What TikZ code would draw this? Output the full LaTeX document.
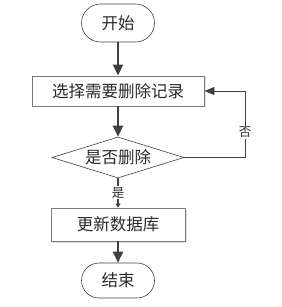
\documentclass[tikz,border=0pt]{standalone}
\usepackage{fontspec}
\newfontfamily\cjk{Noto Sans CJK SC}
\usetikzlibrary{arrows.meta,shapes.geometric,shadows}
\definecolor{linec}{HTML}{404040}
\definecolor{borderc}{HTML}{7A7A7A}
\definecolor{textc}{HTML}{2A2A2A}
\tikzset{
  term/.style={draw=linec, line width=0.6pt, rectangle, rounded corners=#1, inner sep=0pt, text=textc, font=\cjk\fontsize{16.5}{17}\selectfont},
  procbox/.style={draw=borderc, line width=0.9pt, rectangle, inner sep=0pt, text=textc, fill=white,
    drop shadow={opacity=0.25, shadow xshift=1.5pt, shadow yshift=-1.5pt}, font=\cjk\fontsize{16.5}{17}\selectfont},
  decbox/.style={draw=linec, line width=0.6pt, diamond, aspect=3.2, inner sep=0pt, text=textc, font=\cjk\fontsize{16.5}{17}\selectfont},
  flow/.style={draw=linec, line width=2pt, -{Triangle[length=11pt,width=10pt]}},
  thinflow/.style={draw=linec, line width=0.8pt, -{Triangle[length=10pt,width=8pt]}},
  yesflow/.style={draw=linec, line width=1.6pt, -{Triangle[length=4pt,width=5pt]}},
  lbl/.style={fill=white, inner sep=1pt, text=textc, font=\cjk\fontsize{12.5}{13}\selectfont}
}
\begin{document}
\begin{tikzpicture}[x=1pt,y=-1pt]
\useasboundingbox (0,0) rectangle (281,307);
\node[term=19pt, minimum width=73pt, minimum height=38pt] (start) at (118,23) {开始};
\node[procbox, minimum width=172pt, minimum height=30pt] (sel) at (118,91) {选择需要删除记录};
\node[decbox, minimum width=132pt, minimum height=41pt] (dec) at (118,157.5) {是否删除};
\node[procbox, minimum width=134pt, minimum height=33pt] (upd) at (118,224.5) {更新数据库};
\node[term=17.5pt, minimum width=73pt, minimum height=35pt] (stop) at (118,280.5) {结束};
\coordinate (corner) at (245,157.5);
\draw[flow] (start) -- (sel);
\draw[flow] (sel) -- (dec);
\draw[yesflow] (dec) -- node[lbl, pos=0.5] (yes) {是} (upd);
\draw[flow] (upd) -- (stop);
\draw[thinflow] (dec.east) -- (corner) |- node[lbl, pos=0.19] (no) {否} (sel.east);
\end{tikzpicture}
\end{document}
